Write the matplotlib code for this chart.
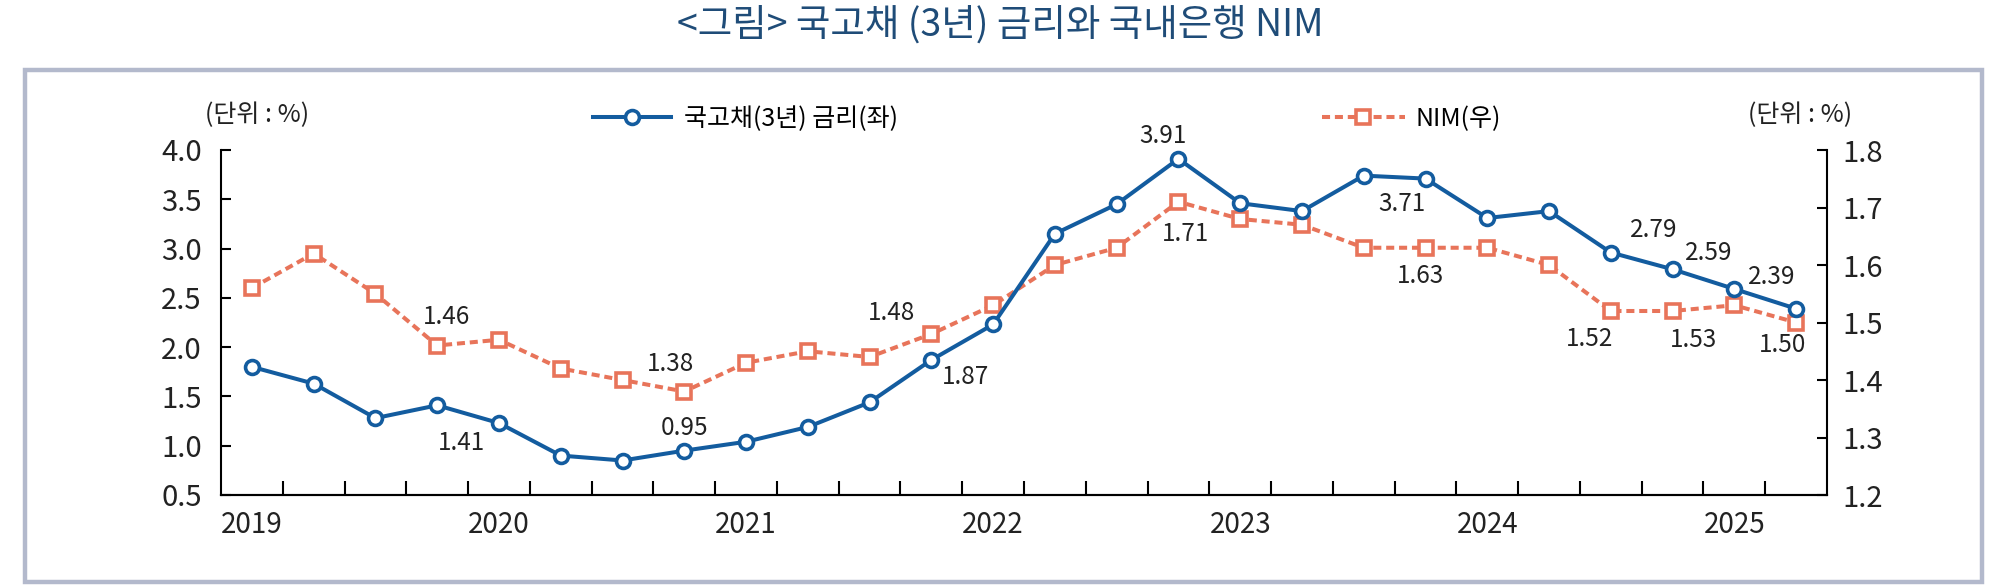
import matplotlib.pyplot as plt
import numpy as np
from matplotlib.patches import Rectangle

plt.rcParams['font.family'] = ['Noto Sans CJK KR', 'DejaVu Sans']

# quarterly, 2019 Q1 .. 2025 Q2
years = ['2019', '2020', '2021', '2022', '2023', '2024', '2025']
ktb = [1.80, 1.63, 1.28, 1.41, 1.23, 0.90, 0.85, 0.95, 1.04, 1.19, 1.44, 1.87, 2.23,
       3.15, 3.45, 3.91, 3.46, 3.38, 3.74, 3.71, 3.31, 3.38, 2.96, 2.79, 2.59, 2.39]
nim = [1.56, 1.62, 1.55, 1.46, 1.47, 1.42, 1.40, 1.38, 1.43, 1.45, 1.44, 1.48, 1.53,
       1.60, 1.63, 1.71, 1.68, 1.67, 1.63, 1.63, 1.63, 1.60, 1.52, 1.52, 1.53, 1.50]

# which points get a value label, and where the label sits (pixels from point)
ktb_lab = [3, 7, 11, 15, 19, 23, 24, 25]
ktb_off = [(24, -38), (0, 23), (34, -17), (-15, 23), (-24, -25), (-19, 39), (-26, 36), (-24, 32)]
nim_lab = [3, 7, 11, 15, 19, 22, 24, 25]
nim_off = [(9, 29), (-14, 28), (-40, 21), (7, -32), (-5, -28), (-21, -28), (-41, -35), (-14, -22)]

blue = '#135c9f'
orange = '#e8745a'
txt = '#222222'

fig = plt.figure(figsize=(20, 5.88), dpi=100)
fig.patches.append(Rectangle((25 / 2000, 1 - 582 / 588), 1957 / 2000, 512 / 588,
                             transform=fig.transFigure, fill=False,
                             edgecolor='#b3b9cc', linewidth=3.2))

fig.text(0.5, 1 - 25 / 588, '<그림> 국고채 (3년) 금리와 국내은행 NIM', ha='center', va='center',
         fontsize=27, color='#1f4c78')

ax = fig.add_axes([221 / 2000, 1 - 495 / 588, 1606 / 2000, 345 / 588])
ax2 = ax.twinx()
ax.set_zorder(ax2.get_zorder() + 1)
ax.patch.set_visible(False)

x = np.arange(len(ktb))
l1, = ax.plot(x, ktb, color=blue, lw=2.9, marker='o', ms=10, mfc='white', mew=2.6,
              label='국고채(3년) 금리(좌)')
l2, = ax2.plot(x, nim, color=orange, lw=2.9, ls=(0, (2, 1.2)), marker='s', ms=9.5,
               mfc='white', mew=2.6, label='NIM(우)')

for i, (dx, dy) in zip(ktb_lab, ktb_off):
    ax.annotate(f'{ktb[i]:.2f}', xy=(i, ktb[i]), xytext=(dx, dy), textcoords='offset pixels',
                ha='center', va='center', fontsize=17.5, color=txt)
for i, (dx, dy) in zip(nim_lab, nim_off):
    ax2.annotate(f'{nim[i]:.2f}', xy=(i, nim[i]), xytext=(dx, dy), textcoords='offset pixels',
                 ha='center', va='center', fontsize=17.5, color=txt)

ax.set_xlim(-0.5, len(ktb) - 0.5)
ax.set_ylim(0.5, 4.0)
ax2.set_ylim(1.2, 1.8)
ax.set_yticks(np.arange(0.5, 4.01, 0.5))
ax.set_yticklabels([f'{v:.1f}' for v in np.arange(0.5, 4.01, 0.5)])
ax2.set_yticks(np.arange(1.2, 1.801, 0.1))
ax2.set_yticklabels([f'{v:.1f}' for v in np.arange(1.2, 1.801, 0.1)])

ax.set_xticks(np.arange(0, len(ktb), 4))
ax.set_xticklabels(years)
ax.set_xticks(np.arange(0.5, len(ktb) - 1, 1), minor=True)
ax.tick_params(axis='x', which='major', length=0, pad=11, labelsize=20, labelcolor=txt)
ax.tick_params(axis='x', which='minor', direction='in', length=10, width=1.5)
ax.tick_params(axis='y', direction='in', length=7, width=1.5, pad=14, labelsize=21, labelcolor=txt)
ax2.tick_params(axis='y', direction='in', length=7, width=1.5, pad=11, labelsize=21, labelcolor=txt)

for a in (ax, ax2):
    a.spines['top'].set_visible(False)
    for s in ('left', 'right', 'bottom'):
        a.spines[s].set_linewidth(1.5)
ax2.spines['left'].set_visible(False)
ax.spines['right'].set_visible(False)

leg1 = ax.legend(handles=[l1], loc='center left', bbox_to_anchor=(593 / 2000, 1 - 119 / 588),
                 bbox_transform=fig.transFigure, frameon=False, fontsize=18, handlelength=3.1,
                 handletextpad=0.55, borderpad=0, borderaxespad=0)
ax.add_artist(leg1)
ax.legend(handles=[l2], loc='center left', bbox_to_anchor=(1322 / 2000, 1 - 119 / 588),
          bbox_transform=fig.transFigure, frameon=False, fontsize=18, handlelength=3.3,
          handletextpad=0.45, borderpad=0, borderaxespad=0)

fig.text(257 / 2000, 1 - 115 / 588, '(단위 : %)', ha='center', va='center', fontsize=18, color=txt)
fig.text(1800 / 2000, 1 - 115 / 588, '(단위 : %)', ha='center', va='center', fontsize=18, color=txt)

fig.savefig('out.png', dpi=100)
